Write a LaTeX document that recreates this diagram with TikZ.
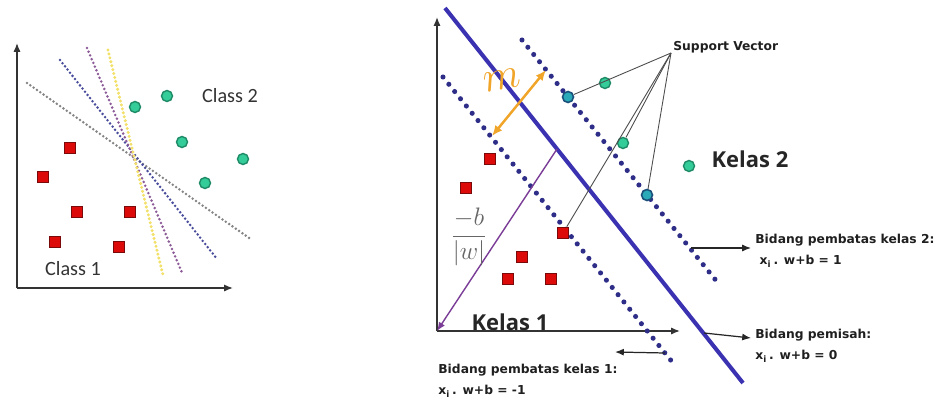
\documentclass[tikz,border=0pt]{standalone}
\usepackage{fontspec}
\setmainfont{Carlito}
\newfontfamily\osans{Open Sans}
\newfontfamily\dvs{DejaVu Sans}
\usetikzlibrary{arrows.meta}
\definecolor{mainblue}{HTML}{3B32B2}
\definecolor{dotblue}{HTML}{2E2E88}
\definecolor{lgray}{HTML}{858585}
\definecolor{lnavy}{HTML}{4A4C9C}
\definecolor{lpurple}{HTML}{8C5A98}
\definecolor{lyellow}{HTML}{F2E068}
\definecolor{teal1}{HTML}{34CC98}
\definecolor{teal2}{HTML}{1F8A68}
\definecolor{cyan1}{HTML}{2AAAB8}
\definecolor{cyan2}{HTML}{1A4F7A}
\definecolor{sqred}{HTML}{DD0A0A}
\definecolor{sqdark}{HTML}{7A0A0A}
\definecolor{morange}{HTML}{F0A428}
\definecolor{mpurple}{HTML}{7A3C96}
\begin{document}
\begin{tikzpicture}[x=0.02cm,y=-0.02cm,
  axis/.style={line width=0.8pt, black!80, -{Latex[length=5pt,width=4pt]}},
  ldot/.style={line width=1.6pt, line cap=round, dash pattern=on 0pt off 2.3pt},
  rdot/.style={line width=2.9pt, line cap=round, dash pattern=on 0pt off 5.3pt, dotblue},
  gpt/.style={circle, fill=teal1, draw=teal2, line width=0.8pt, minimum size=0.22cm, inner sep=0pt},
  spt/.style={circle, fill=cyan1, draw=cyan2, line width=0.9pt, minimum size=0.22cm, inner sep=0pt},
  rsq/.style={rectangle, fill=sqred, draw=sqdark, line width=0.6pt, minimum size=0.23cm, inner sep=0pt},
  callout/.style={black!70, line width=0.5pt},
  labarrow/.style={black!85, line width=0.7pt, -{Latex[length=5pt,width=4pt]}},
  note/.style={font={\dvs\bfseries\fontsize{7}{11}\selectfont}, text=black!88, align=left, inner sep=0pt},
  cls/.style={font={\fontsize{11.5}{12}\selectfont}, text=black!80, inner sep=0pt},
  kel/.style={font={\osans\bfseries\fontsize{12.5}{13}\selectfont}, text=black!85, inner sep=0pt}
]
\useasboundingbox (0,0) rectangle (937,399);

% ---------------- left panel ----------------
\coordinate (lo) at (17,288);
\coordinate (ly) at (17,43);
\coordinate (lx) at (233,288);
\draw[axis] (lo) -- (ly);
\draw[axis] (lo) -- (lx);

\coordinate (ga) at (27,83);   \coordinate (gb) at (252,240);
\coordinate (na) at (60,60);   \coordinate (nb) at (217,259);
\coordinate (pa) at (87,48);   \coordinate (pb) at (183,275);
\coordinate (ya) at (108,50);  \coordinate (yb) at (163,275);
\draw[ldot, lgray] (ga) -- (gb);
\draw[ldot, lnavy] (na) -- (nb);
\draw[ldot, lpurple] (pa) -- (pb);
\draw[ldot, lyellow, line width=1.9pt] (ya) -- (yb);

\node[gpt] (lg1) at (135,107) {};
\node[gpt] (lg2) at (167,96) {};
\node[gpt] (lg3) at (182,142) {};
\node[gpt] (lg4) at (243,159) {};
\node[gpt] (lg5) at (205,183) {};

\node[rsq] (lr1) at (70,148) {};
\node[rsq] (lr2) at (43,177) {};
\node[rsq] (lr3) at (77,212) {};
\node[rsq] (lr4) at (130,212) {};
\node[rsq] (lr5) at (55,242) {};
\node[rsq] (lr6) at (119,247) {};

\node[cls] (c2) at (230,96) {Class 2};
\node[cls] (c1) at (73,269) {Class 1};

% ---------------- right panel ----------------
\coordinate (ro) at (437,331);
\coordinate (ry) at (437,17);
\coordinate (rx) at (680,331);
\draw[axis] (ro) -- (ry);
\draw[axis] (ro) -- (rx);

% margins and separator
\coordinate (ua) at (522,40);  \coordinate (ub) at (718,283);
\coordinate (da) at (443,77);  \coordinate (db) at (673,363);
\coordinate (ma) at (445,8);   \coordinate (mb) at (743,383);
\draw[rdot] (ua) -- (ub);
\draw[rdot] (da) -- (db);
\draw[mainblue, line width=2.3pt] (ma) -- (mb);

% purple distance -b/|w|
\coordinate (pm) at (557,149);
\draw[mpurple, line width=0.8pt, -{Latex[length=5pt,width=4pt]}] (pm) -- (ro);
\node[text=black!60, inner sep=0pt, font={\fontsize{14}{16}\selectfont}] (frac) at (469,237) {$\displaystyle\frac{-b}{|w|}$};

% orange margin m
\coordinate (oa) at (492,136);
\coordinate (ob) at (546,70);
\draw[morange, line width=1.4pt, {Latex[length=6pt,width=5pt]}-{Latex[length=6pt,width=5pt]}] (oa) -- (ob);
\node[text=morange, inner sep=0pt, font={\fontsize{24}{24}\selectfont}, rotate=10] (mlab) at (502,80) {$m$};

% points
\node[spt] (s1) at (568,97) {};
\node[gpt] (s2) at (605,83) {};
\node[gpt] (s3) at (623,143) {};
\node[spt] (s4) at (647,195) {};
\node[gpt] (g5) at (689,166) {};

\node[rsq] (r1) at (490,159) {};
\node[rsq] (r2) at (466,188) {};
\node[rsq] (r3) at (563,233) {};
\node[rsq] (r4) at (522,257) {};
\node[rsq] (r5) at (508,279) {};
\node[rsq] (r6) at (551,279) {};

% support vector callout
\node[font={\dvs\bfseries\fontsize{7}{9}\selectfont}, text=black!88, inner sep=0pt, anchor=west] (sv) at (673,47) {Support Vector};
\coordinate (hub) at (671,53);
\draw[callout] (hub) -- (s1);
\draw[callout] (hub) -- (s3);
\draw[callout] (hub) -- (s4);
\draw[callout] (hub) -- (r3);

\node[kel] (k2) at (750,159) {Kelas 2};
\node[kel] (k1) at (510,322) {Kelas 1};

% notes
\node[note, anchor=north west] (n2) at (755,234) {Bidang pembatas kelas 2:\\[1pt]\ x\textsubscript{i}\,. w+b = 1};
\node[note, anchor=north west] (n0) at (755,329) {Bidang pemisah:\\[1pt]x\textsubscript{i}\,. w+b = 0};
\node[note, anchor=north west] (n1) at (438,364) {Bidang pembatas kelas 1:\\[1pt]x\textsubscript{i}\,. w+b = -1};

\coordinate (a2s) at (691,248);
\coordinate (a2e) at (751,248);
\draw[labarrow] (a2s) -- (a2e);
\coordinate (a0s) at (704,333);
\coordinate (a0e) at (751,338);
\draw[labarrow] (a0s) -- (a0e);
\coordinate (a1s) at (665,353);
\coordinate (a1e) at (615,352);
\draw[labarrow] (a1s) -- (a1e);
\end{tikzpicture}
\end{document}
